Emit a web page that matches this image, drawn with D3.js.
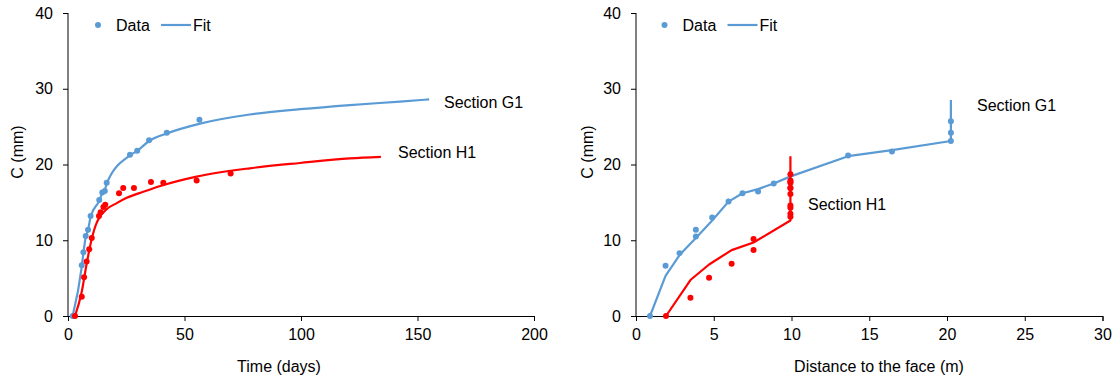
<!DOCTYPE html>
<html><head><meta charset="utf-8">
<script src="https://cdn.jsdelivr.net/npm/d3@7"></script>
<style>
body{margin:0;background:#fff;}
svg{display:block;font-family:"Liberation Sans",Arial,sans-serif;}
</style></head>
<body><svg id="c" width="1116" height="380"></svg>
<script>
// ---- Left chart: time (days) ----
const g1TimeDays = [2.0,5.9,6.6,7.6,8.6,9.7,13.4,14.7,15.8,16.6,26.6,29.7,34.8,42.4,56.4];
const g1TimeC    = [0,6.7,8.4,10.55,11.4,13.2,15.3,16.3,16.5,17.6,21.3,21.8,23.2,24.2,25.9];
const g1FitDays  = [2.0,5.9,6.6,7.6,8.6,9.7,13.4,14.7,15.8,16.6,26.6,29.7,34.8,42.4,56.7,78,99.6,121,142.5,155];
const g1FitC     = [0,6.5,8.3,10.4,11.3,13.1,15.2,16.2,16.6,17.5,21.2,21.8,23.1,24.1,25.4,26.6,27.3,27.85,28.3,28.6];
const h1TimeDays = [3.0,5.9,6.9,8.0,9.1,10.2,13.3,14.0,15.2,16.0,21.9,23.7,28.3,35.6,40.9,55.2,69.8];
const h1TimeC    = [0,2.55,5.1,7.2,8.8,10.3,13.2,13.7,14.4,14.7,16.2,16.9,16.9,17.7,17.6,17.9,18.8];
const h1FitDays  = [3.0,5.9,8.0,10.2,12.3,13.3,16.6,20.9,25.2,32.3,40,55.2,78,99.6,121,134.3];
const h1FitC     = [0,3.2,6.9,10.2,12.3,12.9,14.1,14.9,15.6,16.4,17.2,18.4,19.5,20.2,20.8,21.0];
// ---- Right chart: distance to the face (m) ----
const g1DistM    = [0.9,1.9,2.8,3.85,3.85,4.9,5.95,6.85,7.85,8.86,13.64,16.46,20.25,20.25,20.25];
const g1DistC    = [0,6.65,8.3,10.5,11.4,13.0,15.1,16.2,16.45,17.5,21.2,21.7,23.1,24.2,25.7];
const g1DFitM    = [0.9,1.9,2.8,3.85,4.9,5.95,6.85,7.85,8.86,9.9,13.64,16.46,20.25,20.25];
const g1DFitC    = [0,5.3,8.05,10.3,12.6,15.1,16.2,16.75,17.5,18.4,21.1,21.9,23.1,28.5];
const h1DistM    = [1.93,3.5,4.7,6.15,7.56,7.56,9.93,9.93,9.93,9.93,9.93,9.93,9.93,9.93,9.93,9.93,9.93];
const h1DistC    = [0,2.4,5.05,6.9,8.7,10.15,13.1,13.5,14.3,14.6,16.1,16.9,16.9,17.6,17.7,17.9,18.7];
const h1DFitM    = [1.93,3.5,4.7,6.15,7.56,9.93,9.93];
const h1DFitC    = [0,4.75,6.8,8.7,9.7,12.6,21.1];
// ---- ticks / labels ----
const yTicks = [0,10,20,30,40];
const xTicksTime = [0,50,100,150,200];
const xTicksDist = [0,5,10,15,20,25,30];
const legendLabels = ["Data","Fit"];
const sectionLabels = ["Section G1","Section H1"];

const BLUE = "#5B9BD5", RED = "#FF0000";
const svg = d3.select("#c");
const zip = (a,b)=>a.map((v,i)=>[v,b[i]]);

function chart(opt){
  const x = d3.scaleLinear().domain(opt.xDomain).range(opt.xRange);
  const y = d3.scaleLinear().domain([0,40]).range([316,13]);
  const g = svg.append("g");
  // axes
  const ya = g.append("g").attr("transform",`translate(${opt.xRange[0]},0)`)
    .call(d3.axisLeft(y).tickValues(yTicks).tickSize(5).tickPadding(10));
  const xa = g.append("g").attr("transform",`translate(0,316)`)
    .call(d3.axisBottom(x).tickValues(opt.xTicks).tickSize(5).tickPadding(8));
  [ya,xa].forEach(a=>{
    a.selectAll("text").attr("font-size",16).attr("fill","#000").attr("font-family","Liberation Sans, Arial, sans-serif");
    a.selectAll("line,path").attr("stroke","#000").attr("stroke-width",1);
  });
  ya.select(".domain").attr("d",`M0,${y(40)}V${y(0)}`);
  // axis titles
  g.append("text").attr("x",opt.xTitleX).attr("y",372).attr("text-anchor","middle")
    .attr("font-size",16).text(opt.xTitle);
  g.append("text").attr("transform",`translate(${opt.yTitleX},${152}) rotate(-90)`)
    .attr("text-anchor","middle").attr("dy","0.35em").attr("font-size",16).text("C (mm)");
  const line = d3.line().x(d=>x(d[0])).y(d=>y(d[1])).curve(opt.curve);
  const series = [
    {pts:zip(opt.g1X,opt.g1Y), fit:zip(opt.g1FX,opt.g1FY), c:BLUE},
    {pts:zip(opt.h1X,opt.h1Y), fit:zip(opt.h1FX,opt.h1FY), c:RED}
  ];
  series.forEach(s=>{
    g.append("path").datum(s.fit).attr("d",line).attr("fill","none")
      .attr("stroke",s.c).attr("stroke-width",2.2).attr("stroke-linejoin","round");
    g.selectAll(null).data(s.pts).enter().append("circle")
      .attr("cx",d=>x(d[0])).attr("cy",d=>y(d[1])).attr("r",3).attr("fill",s.c);
  });
  // legend
  const lx = opt.legendX;
  g.append("circle").attr("cx",lx).attr("cy",25).attr("r",3).attr("fill",BLUE);
  g.append("text").attr("x",lx+18).attr("y",25).attr("dy","0.35em").attr("font-size",16).text(legendLabels[0]);
  g.append("line").attr("x1",lx+63).attr("x2",lx+93).attr("y1",25).attr("y2",25)
    .attr("stroke",BLUE).attr("stroke-width",2.2);
  g.append("text").attr("x",lx+95).attr("y",25).attr("dy","0.35em").attr("font-size",16).text(legendLabels[1]);
  // section labels
  g.append("text").attr("x",opt.g1Lab[0]).attr("y",opt.g1Lab[1]).attr("dy","0.35em").attr("font-size",16).text(sectionLabels[0]);
  g.append("text").attr("x",opt.h1Lab[0]).attr("y",opt.h1Lab[1]).attr("dy","0.35em").attr("font-size",16).text(sectionLabels[1]);
}

chart({xDomain:[0,200], xRange:[68,534], xTicks:xTicksTime, xTitle:"Time (days)", xTitleX:279, yTitleX:17,
  curve:d3.curveMonotoneX,
  g1X:g1TimeDays,g1Y:g1TimeC,g1FX:g1FitDays,g1FY:g1FitC,
  h1X:h1TimeDays,h1Y:h1TimeC,h1FX:h1FitDays,h1FY:h1FitC,
  legendX:98, g1Lab:[444,102], h1Lab:[398,152]});
chart({xDomain:[0,30], xRange:[636,1102.5], xTicks:xTicksDist, xTitle:"Distance to the face (m)", xTitleX:879, yTitleX:587,
  curve:d3.curveLinear,
  g1X:g1DistM,g1Y:g1DistC,g1FX:g1DFitM,g1FY:g1DFitC,
  h1X:h1DistM,h1Y:h1DistC,h1FX:h1DFitM,h1FY:h1DFitC,
  legendX:664.5, g1Lab:[977,105], h1Lab:[808,204]});
</script></body></html>
